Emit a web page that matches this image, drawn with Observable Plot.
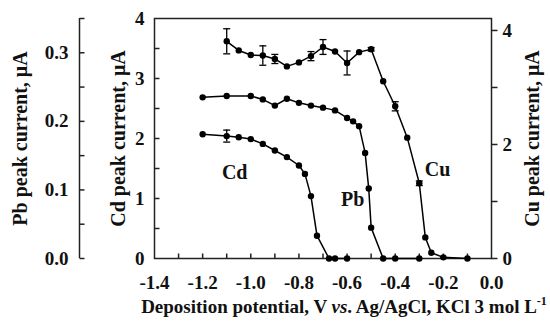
<!DOCTYPE html>
<html>
<head>
<meta charset="utf-8">
<script src="https://cdn.jsdelivr.net/npm/d3@7"></script>
<script src="https://cdn.jsdelivr.net/npm/@observablehq/plot@0.6"></script>
<style>
  body { margin: 0; background: #fff; }
  #wrap { position: relative; width: 550px; height: 325px; font-family: "Liberation Serif", "Times New Roman", serif; }
  #xtitle { position: absolute; left: 0; width: 550px; top: 296px; text-align: center; padding-left: 138px; box-sizing: border-box;
    font-weight: bold; font-size: 19px; white-space: nowrap; color: #111; }
  #xtitle sup { font-size: 12px; line-height: 0; vertical-align: 8px; }
</style>
</head>
<body>
<div id="wrap"><div id="xtitle">Deposition potential, V <i>vs</i>. Ag/AgCl, KCl 3 mol L<sup>-1</sup></div></div>
<script>
// ---- data ----
const cdX = [-1.2, -1.1, -1.05, -1.0, -0.95, -0.9, -0.85, -0.8, -0.775, -0.75, -0.725, -0.675, -0.65, -0.6];
const cdY = [2.07, 2.04, 2.02, 1.99, 1.91, 1.80, 1.69, 1.55, 1.41, 1.04, 0.38, 0, 0, 0];
const cdErr = [0, 0.1, 0, 0, 0, 0, 0, 0, 0, 0, 0, 0, 0, 0];

const pbX = [-1.2, -1.1, -1.0, -0.95, -0.9, -0.85, -0.8, -0.75, -0.7, -0.65, -0.6, -0.575, -0.55, -0.525, -0.51, -0.5, -0.45, -0.4, -0.3];
const pbY = [0.235, 0.237, 0.237, 0.232, 0.223, 0.233, 0.227, 0.223, 0.220, 0.216, 0.205, 0.200, 0.193, 0.154, 0.102, 0.045, 0, 0, 0];

const cuX = [-1.1, -1.05, -1.0, -0.95, -0.9, -0.85, -0.8, -0.75, -0.7, -0.65, -0.6, -0.55, -0.5, -0.45, -0.4, -0.35, -0.3, -0.275, -0.25, -0.2, -0.1];
const cuY = [3.81, 3.65, 3.57, 3.56, 3.50, 3.37, 3.44, 3.55, 3.71, 3.63, 3.43, 3.62, 3.67, 3.11, 2.67, 2.12, 1.32, 0.37, 0.10, 0.02, 0];
const cuErr = [0.22, 0, 0, 0.17, 0.08, 0, 0, 0.08, 0.13, 0, 0.21, 0, 0.03, 0, 0.08, 0, 0.04, 0, 0, 0, 0];

const seriesLabels = ["Cd", "Pb", "Cu"];
const labelX = [-1.067, -0.577, -0.224];
const labelY = [1.43, 0.98, 1.48];

const xLabelTicks = [-1.4, -1.2, -1.0, -0.8, -0.6, -0.4, -0.2, 0.0];
const xMinorTicks = [-1.3, -1.2, -1.1, -1.0, -0.9, -0.8, -0.7, -0.6, -0.5, -0.4, -0.3, -0.2, -0.1];
const cdLabelTicks = [0, 1, 2, 3, 4];
const cdMinorTicks = [0.5, 1, 1.5, 2, 2.5, 3, 3.5];
const pbLabelTicks = [0.0, 0.1, 0.2, 0.3];
const pbMinorTicks = [0, 0.05, 0.1, 0.15, 0.2, 0.25, 0.3, 0.35];
const cuLabelTicks = [0, 2, 4];
const cuMinorTicks = [0, 1, 2, 3, 4];

const pbMax = 0.35, cuMax = 4.21, cdMax = 4;
const xDomain = [-1.4, 0];

// ---- build ----
const PBK = cdMax / pbMax, CUK = cdMax / cuMax;
const cd = cdX.map((x, i) => ({x, y: cdY[i], e: cdErr[i]}));
const pb = pbX.map((x, i) => ({x, y: pbY[i] * PBK}));
const cu = cuX.map((x, i) => ({x, y: cuY[i] * CUK, e: cuErr[i] * CUK}));
const errs = [...cd, ...cu].filter(d => d.e > 0);
const labels = seriesLabels.map((t, i) => ({t, x: labelX[i], y: labelY[i]}));

// custom line symbols (length = r)
const sym = (dx, dy) => ({draw(ctx, size) { const r = Math.sqrt(size / Math.PI); ctx.moveTo(0, 0); ctx.lineTo(dx * r, dy * r); }});
const cap = {draw(ctx, size) { const r = Math.sqrt(size / Math.PI); ctx.moveTo(-r, 0); ctx.lineTo(r, 0); }};
const tickRight = sym(1, 0), tickUp = sym(0, -1);

const FS = 19;
const TS = 20;
const axisCol = "#222";
const tickCol = "#222";
const pbOff = -75;
const tk = 5;
const tw = 1.5;

const chart = Plot.plot({
  width: 550, height: 325,
  marginTop: 18, marginBottom: 67, marginLeft: 154, marginRight: 59,
  style: {fontFamily: '"Liberation Serif", "Times New Roman", serif', fontWeight: "bold", color: "#111", background: "white"},
  x: {domain: xDomain},
  y: {domain: [0, cdMax]},
  marks: [
    Plot.frame({stroke: axisCol, strokeWidth: 1.5}),
    // x axis
    Plot.axisX({ticks: xLabelTicks, tickFormat: d => d.toFixed(1), tickSize: 0, tickPadding: 17, fontSize: FS, label: null}),
    Plot.dot(xMinorTicks, {x: d => d, y: () => 0, symbol: tickUp, r: tk, stroke: tickCol, strokeWidth: tw}),
    // Cd axis (left of frame)
    Plot.axisY({ticks: cdLabelTicks, tickFormat: d => String(d), tickSize: 0, tickPadding: 10, fontSize: FS, label: null}),
    Plot.dot(cdMinorTicks, {x: () => xDomain[0], y: d => d, symbol: tickRight, r: tk, stroke: tickCol, strokeWidth: tw}),
    // Pb axis (offset further left)
    Plot.ruleX([xDomain[0]], {y1: 0, y2: cdMax, dx: pbOff, stroke: axisCol, strokeWidth: 1.5}),
    Plot.axisY({ticks: pbLabelTicks.map(v => v * PBK), tickFormat: d => (d / PBK).toFixed(1), tickSize: 0, tickPadding: 11, dx: pbOff, fontSize: FS, label: null}),
    Plot.dot(pbMinorTicks, {x: () => xDomain[0], y: d => d * PBK, dx: pbOff, symbol: tickRight, r: tk, stroke: tickCol, strokeWidth: tw}),
    // Cu axis (right)
    Plot.axisY({anchor: "right", ticks: cuLabelTicks.map(v => v * CUK), tickFormat: d => String(Math.round(d / CUK)), tickSize: 0, tickPadding: 11, fontSize: FS, label: null}),
    Plot.dot(cuMinorTicks, {x: () => xDomain[1], y: d => d * CUK, symbol: tickRight, r: 6, stroke: tickCol, strokeWidth: tw}),
    // axis titles
    Plot.text(["Pb peak current, μA"], {frameAnchor: "left", textAnchor: "middle", rotate: -90, dx: -134, fontSize: TS, fontWeight: "bold"}),
    Plot.text(["Cd peak current, μA"], {frameAnchor: "left", textAnchor: "middle", rotate: -90, dx: -36, fontSize: TS, fontWeight: "bold"}),
    Plot.text(["Cu peak current, μA"], {frameAnchor: "right", textAnchor: "middle", rotate: -90, dx: 41, fontSize: TS, fontWeight: "bold"}),
    // error bars
    Plot.ruleX(errs, {x: "x", y1: d => d.y - d.e, y2: d => d.y + d.e, stroke: "black", strokeWidth: 1.3}),
    Plot.dot(errs, {x: "x", y: d => d.y - d.e, symbol: cap, r: 3.5, stroke: "black", strokeWidth: 1.3}),
    Plot.dot(errs, {x: "x", y: d => d.y + d.e, symbol: cap, r: 3.5, stroke: "black", strokeWidth: 1.3}),
    // series
    Plot.line(cd, {x: "x", y: "y", stroke: "black", strokeWidth: 1.5}),
    Plot.line(pb, {x: "x", y: "y", stroke: "black", strokeWidth: 1.5}),
    Plot.line(cu, {x: "x", y: "y", stroke: "black", strokeWidth: 1.5}),
    Plot.dot(cd, {x: "x", y: "y", r: 3.2, fill: "black"}),
    Plot.dot(pb, {x: "x", y: "y", r: 3.2, fill: "black"}),
    Plot.dot(cu, {x: "x", y: "y", r: 3.2, fill: "black"}),
    // series labels
    Plot.text(labels, {x: "x", y: "y", text: "t", fontSize: 20, fontWeight: "bold"})
  ]
});
document.getElementById("wrap").prepend(chart);
chart.style.position = "absolute";
chart.style.left = "0";
chart.style.top = "0";
</script>
</body>
</html>
